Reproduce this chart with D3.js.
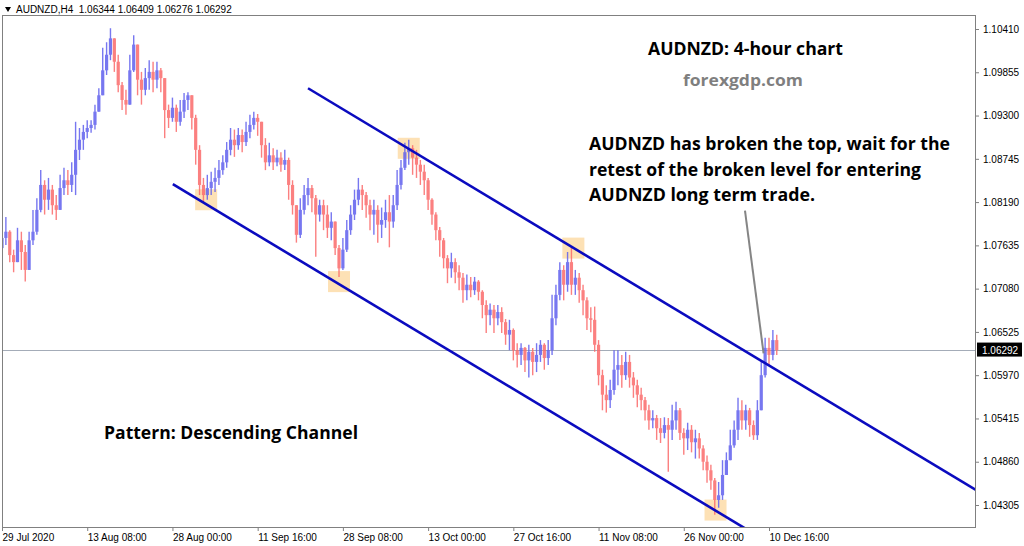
<!DOCTYPE html>
<html>
<head>
<meta charset="utf-8">
<script src="https://cdn.jsdelivr.net/npm/d3@7/dist/d3.min.js"></script>
<style>
html,body{margin:0;padding:0;background:#fff;}
svg{display:block;}
</style>
</head>
<body>
<svg id="chart" width="1024" height="546"></svg>
<script>
// ---------- DATA ----------
const symbolLabel = "AUDNZD,H4";
const lastBar = [1.06344, 1.06409, 1.06276, 1.06292];
const currentPrice = 1.06292;

const yTickValues = [1.10410, 1.09855, 1.09300, 1.08745, 1.08190, 1.07635, 1.07080, 1.06525, 1.05970, 1.05415, 1.04860, 1.04305];
const xTickIndex = [0, 22, 44, 66, 88, 110, 132, 154, 176, 198];
const xTickLabels = ["29 Jul 2020", "13 Aug 08:00", "28 Aug 00:00", "11 Sep 16:00", "28 Sep 08:00", "13 Oct 00:00", "27 Oct 16:00", "11 Nov 08:00", "26 Nov 00:00", "10 Dec 16:00"];

const firstOpen = 1.0760;
const closes = [
1.0773,1.0781,1.0751,1.0742,1.0770,1.0755,1.0732,1.0770,1.0781,1.0809,
1.0841,1.0822,1.0835,1.0815,1.0809,1.0837,1.0847,1.0841,1.0854,1.0886,
1.0899,1.0909,1.0914,1.0918,1.0935,1.0956,1.0988,1.1008,1.1029,1.0999,
1.0969,1.0950,1.0944,1.0988,1.1021,1.0976,1.0963,1.0978,1.0986,1.0976,
1.0988,1.0978,1.0937,1.0927,1.0940,1.0922,1.0935,1.0950,1.0956,1.0927,
1.0886,1.0841,1.0828,1.0837,1.0845,1.0850,1.0860,1.0870,1.0886,1.0899,
1.0892,1.0905,1.0896,1.0909,1.0918,1.0927,1.0922,1.0892,1.0870,1.0879,
1.0870,1.0876,1.0867,1.0873,1.0841,1.0815,1.0777,1.0809,1.0828,1.0837,
1.0824,1.0803,1.0815,1.0803,1.0786,1.0794,1.0760,1.0734,1.0758,1.0783,
1.0803,1.0822,1.0835,1.0828,1.0815,1.0803,1.0809,1.0790,1.0796,1.0806,
1.0794,1.0815,1.0841,1.0863,1.0883,1.0888,1.0876,1.0867,1.0858,1.0847,
1.0822,1.0803,1.0783,1.0770,1.0747,1.0734,1.0742,1.0729,1.0722,1.0706,
1.0713,1.0706,1.0717,1.0704,1.0687,1.0674,1.0681,1.0670,1.0678,1.0665,
1.0649,1.0655,1.0629,1.0623,1.0632,1.0616,1.0627,1.0614,1.0623,1.0636,
1.0619,1.0629,1.0670,1.0700,1.0732,1.0713,1.0742,1.0713,1.0722,1.0706,
1.0693,1.0670,1.0668,1.0636,1.0597,1.0572,1.0565,1.0578,1.0604,1.0610,
1.0597,1.0614,1.0594,1.0584,1.0572,1.0565,1.0552,1.0539,1.0542,1.0529,
1.0523,1.0533,1.0527,1.0539,1.0552,1.0523,1.0516,1.0527,1.0511,1.0516,
1.0503,1.0486,1.0475,1.0462,1.0437,1.0443,1.0469,1.0488,1.0507,1.0527,
1.0552,1.0539,1.0552,1.0533,1.0520,1.0552,1.0597,1.0632,1.0623,1.0642,
1.06292];
const highs = [
1.0786,1.0800,1.0783,1.0758,1.0786,1.0781,1.0764,1.0781,1.0809,1.0824,
1.0860,1.0847,1.0850,1.0841,1.0828,1.0854,1.0863,1.0860,1.0870,1.0922,
1.0914,1.0918,1.0924,1.0924,1.0944,1.0965,1.1017,1.1024,1.1042,1.1029,
1.1008,1.0973,1.0963,1.1008,1.1033,1.1021,1.0986,1.0991,1.1001,1.0999,
1.0999,1.0991,1.0978,1.0944,1.0953,1.0944,1.0950,1.0959,1.0960,1.0956,
1.0931,1.0892,1.0850,1.0854,1.0858,1.0863,1.0873,1.0879,1.0896,1.0914,
1.0912,1.0914,1.0912,1.0922,1.0931,1.0935,1.0932,1.0922,1.0901,1.0895,
1.0888,1.0886,1.0883,1.0886,1.0876,1.0847,1.0815,1.0824,1.0841,1.0850,
1.0841,1.0828,1.0822,1.0822,1.0815,1.0806,1.0794,1.0764,1.0773,1.0796,
1.0815,1.0835,1.0850,1.0841,1.0832,1.0822,1.0822,1.0815,1.0812,1.0822,
1.0828,1.0828,1.0860,1.0873,1.0895,1.0899,1.0892,1.0886,1.0873,1.0867,
1.0850,1.0824,1.0806,1.0787,1.0773,1.0751,1.0754,1.0747,1.0738,1.0728,
1.0726,1.0723,1.0723,1.0719,1.0706,1.0693,1.0689,1.0687,1.0687,1.0684,
1.0669,1.0668,1.0657,1.0638,1.0638,1.0633,1.0636,1.0632,1.0638,1.0642,
1.0638,1.0642,1.0700,1.0713,1.0742,1.0738,1.0755,1.0761,1.0732,1.0728,
1.0713,1.0697,1.0684,1.0685,1.0642,1.0604,1.0584,1.0591,1.0629,1.0629,
1.0623,1.0627,1.0623,1.0601,1.0591,1.0581,1.0569,1.0559,1.0552,1.0546,
1.0542,1.0543,1.0542,1.0559,1.0563,1.0555,1.0529,1.0536,1.0533,1.0527,
1.0523,1.0507,1.0494,1.0482,1.0465,1.0460,1.0488,1.0498,1.0527,1.0539,
1.0568,1.0565,1.0559,1.0555,1.0539,1.0565,1.0616,1.0645,1.0645,1.0655,
1.0649];
const lows = [
1.0760,1.0764,1.0742,1.0729,1.0742,1.0732,1.0717,1.0742,1.0764,1.0777,
1.0806,1.0803,1.0809,1.0803,1.0796,1.0809,1.0828,1.0828,1.0832,1.0828,
1.0873,1.0886,1.0901,1.0908,1.0912,1.0935,1.0976,1.0982,1.1001,1.0986,
1.0960,1.0937,1.0931,1.0944,1.0986,1.0956,1.0944,1.0956,1.0963,1.0960,
1.0965,1.0960,1.0901,1.0914,1.0922,1.0909,1.0917,1.0927,1.0937,1.0912,
1.0867,1.0828,1.0819,1.0822,1.0828,1.0832,1.0841,1.0854,1.0863,1.0879,
1.0877,1.0886,1.0883,1.0891,1.0901,1.0912,1.0904,1.0876,1.0860,1.0865,
1.0860,1.0865,1.0858,1.0860,1.0822,1.0803,1.0767,1.0773,1.0803,1.0815,
1.0806,1.0749,1.0794,1.0783,1.0773,1.0770,1.0751,1.0723,1.0732,1.0755,
1.0777,1.0796,1.0815,1.0809,1.0799,1.0783,1.0777,1.0767,1.0773,1.0786,
1.0761,1.0786,1.0809,1.0835,1.0860,1.0867,1.0854,1.0850,1.0841,1.0828,
1.0809,1.0790,1.0770,1.0749,1.0734,1.0715,1.0722,1.0715,1.0706,1.0690,
1.0693,1.0697,1.0700,1.0693,1.0670,1.0651,1.0661,1.0651,1.0661,1.0651,
1.0636,1.0629,1.0616,1.0607,1.0610,1.0601,1.0594,1.0597,1.0601,1.0614,
1.0604,1.0610,1.0623,1.0661,1.0693,1.0693,1.0704,1.0700,1.0700,1.0690,
1.0674,1.0655,1.0652,1.0627,1.0584,1.0552,1.0549,1.0555,1.0572,1.0584,
1.0581,1.0591,1.0581,1.0568,1.0556,1.0552,1.0539,1.0527,1.0529,1.0514,
1.0510,1.0516,1.0473,1.0514,1.0527,1.0514,1.0495,1.0501,1.0498,1.0490,
1.0490,1.0475,1.0459,1.0450,1.0418,1.0427,1.0437,1.0469,1.0488,1.0504,
1.0514,1.0527,1.0527,1.0518,1.0514,1.0514,1.0552,1.0594,1.0610,1.0616,
1.0623];

// channel lines: [bar index, price]
const upperChannel = [[79, 1.0965], [252, 1.0448]];
const lowerChannel = [[44.1, 1.0842], [193, 1.0397]];
// highlighted touch points: [bar index, price]
const touchPoints = [[52.7, 1.0822], [87, 1.0717], [105, 1.0888], [147.5, 1.0760], [184.2, 1.0424]];
// pointer from annotation to breakout: [bar index, price]
const pointerLine = [[191.8, 1.0808], [196.6, 1.0625]];

const titleText = "AUDNZD: 4-hour chart";
const siteText = "forexgdp.com";
const noteLines = ["AUDNZD has broken the top, wait for the", "retest of the broken level for entering", "AUDNZD long term trade."];
const patternText = "Pattern: Descending Channel";

// ---------- LAYOUT ----------
const plot = {left: 2, right: 976, top: 15, bottom: 527};
const svg = d3.select("#chart");

const x = d3.scaleLinear().domain([0, 198]).range([2, 769]);
const y = d3.scaleLinear().domain([1.04305, 1.10410]).range([505, 29]);

const opens = [firstOpen].concat(closes.slice(0, -1));
const candles = closes.map((c, i) => ({i, o: opens[i], h: highs[i], l: lows[i], c}));

svg.append("defs").append("clipPath").attr("id", "plotClip")
  .append("rect").attr("x", plot.left).attr("y", plot.top)
  .attr("width", plot.right - plot.left).attr("height", plot.bottom - plot.top);

const g = svg.append("g").attr("clip-path", "url(#plotClip)");

// current price line
g.append("line")
  .attr("x1", plot.left).attr("x2", plot.right)
  .attr("y1", Math.round(y(currentPrice)) + 0.5).attr("y2", Math.round(y(currentPrice)) + 0.5)
  .attr("stroke", "#a4acb8").attr("stroke-width", 1);

// touch boxes
g.selectAll("rect.touch").data(touchPoints).join("rect")
  .attr("class", "touch")
  .attr("x", d => x(d[0]) - 11).attr("y", d => y(d[1]) - 10.5)
  .attr("width", 22).attr("height", 21)
  .attr("fill", "#fdd9a3").attr("opacity", 0.8);

// candles
const bull = "#6060ee", bear = "#fb6a6a";
const cg = g.append("g").attr("opacity", 0.85);
cg.selectAll("line.wick").data(candles).join("line")
  .attr("class", "wick")
  .attr("x1", d => x(d.i)).attr("x2", d => x(d.i))
  .attr("y1", d => y(Math.max(d.h, d.o, d.c)))
  .attr("y2", d => y(Math.min(d.l, d.o, d.c)))
  .attr("stroke", d => d.c >= d.o ? bull : bear)
  .attr("stroke-width", 1.4);
cg.selectAll("rect.body").data(candles).join("rect")
  .attr("class", "body")
  .attr("x", d => x(d.i) - 1.6)
  .attr("width", 3.2)
  .attr("y", d => y(Math.max(d.o, d.c)))
  .attr("height", d => Math.max(1, Math.abs(y(d.o) - y(d.c))))
  .attr("fill", d => d.c >= d.o ? bull : bear);

// channel lines
const line = d3.line().x(d => x(d[0])).y(d => y(d[1]));
[upperChannel, lowerChannel].forEach(pts => {
  g.append("path").attr("d", line(pts))
    .attr("stroke", "#0b0bbf").attr("stroke-width", 2.6).attr("fill", "none");
});

// pointer line
g.append("path").attr("d", line(pointerLine))
  .attr("stroke", "#858585").attr("stroke-width", 2).attr("fill", "none");

// border
svg.append("rect")
  .attr("x", plot.left + 0.5).attr("y", plot.top + 0.5)
  .attr("width", plot.right - plot.left - 1).attr("height", plot.bottom - plot.top)
  .attr("fill", "none").attr("stroke", "#808080").attr("stroke-width", 1);

// right axis
const yAxis = d3.axisRight(y).tickValues(yTickValues).tickFormat(d3.format(".5f")).tickSize(3).tickPadding(4);
const ya = svg.append("g").attr("transform", `translate(${plot.right},0)`).call(yAxis);
ya.select(".domain").remove();
ya.selectAll("text").attr("font-family", "Liberation Sans, Arial, sans-serif").attr("font-size", 10).attr("fill", "#000");
ya.selectAll("line").attr("stroke", "#808080");

// current price label
const cpY = y(currentPrice);
svg.append("rect").attr("x", plot.right + 1).attr("y", cpY - 7.5).attr("width", 45).attr("height", 14).attr("fill", "#000");
svg.append("text").attr("x", plot.right + 6).attr("y", cpY + 3.8)
  .attr("font-family", "Liberation Sans, Arial, sans-serif").attr("font-size", 10).attr("fill", "#fff")
  .text(d3.format(".5f")(currentPrice));

// bottom axis
const xAxis = d3.axisBottom(x).tickValues(xTickIndex).tickFormat((d, i) => xTickLabels[i]).tickSize(4).tickPadding(3);
const xa = svg.append("g").attr("transform", `translate(0,${plot.bottom})`).call(xAxis);
xa.select(".domain").remove();
xa.selectAll("text").attr("text-anchor", "start").attr("dx", 0)
  .attr("font-family", "Liberation Sans, Arial, sans-serif").attr("font-size", 10).attr("fill", "#000");
xa.selectAll("line").attr("stroke", "#808080");

// header
svg.append("path").attr("d", "M5,7 L11,7 L8,12 Z").attr("fill", "#000");
svg.append("text").attr("x", 16).attr("y", 13)
  .attr("font-family", "Liberation Sans, Arial, sans-serif").attr("font-size", 10).attr("fill", "#000")
  .attr("xml:space", "preserve")
  .text(symbolLabel + "  " + lastBar.map(d3.format(".5f")).join(" "));

// annotation texts
const font = "Open Sans, Lato, sans-serif";
svg.append("text").attr("x", 648).attr("y", 55).attr("font-family", font).attr("font-weight", 700)
  .attr("font-size", 17).attr("fill", "#000").attr("textLength", 195).attr("lengthAdjust", "spacingAndGlyphs").text(titleText);
svg.append("text").attr("x", 683).attr("y", 86).attr("font-family", font).attr("font-weight", 700)
  .attr("font-size", 15.5).attr("fill", "#7f7f7f").attr("textLength", 120).attr("lengthAdjust", "spacingAndGlyphs").text(siteText);
const noteWidths = [361, 332, 226];
noteLines.forEach((t, k) => {
  svg.append("text").attr("x", 589).attr("y", 150 + k * 25.5).attr("font-family", font).attr("font-weight", 700)
    .attr("font-size", 17.5).attr("fill", "#000").attr("textLength", noteWidths[k]).attr("lengthAdjust", "spacingAndGlyphs").text(t);
});
svg.append("text").attr("x", 104).attr("y", 439).attr("font-family", font).attr("font-weight", 700)
  .attr("font-size", 17.5).attr("fill", "#000").attr("textLength", 254).attr("lengthAdjust", "spacingAndGlyphs").text(patternText);
</script>
</body>
</html>
